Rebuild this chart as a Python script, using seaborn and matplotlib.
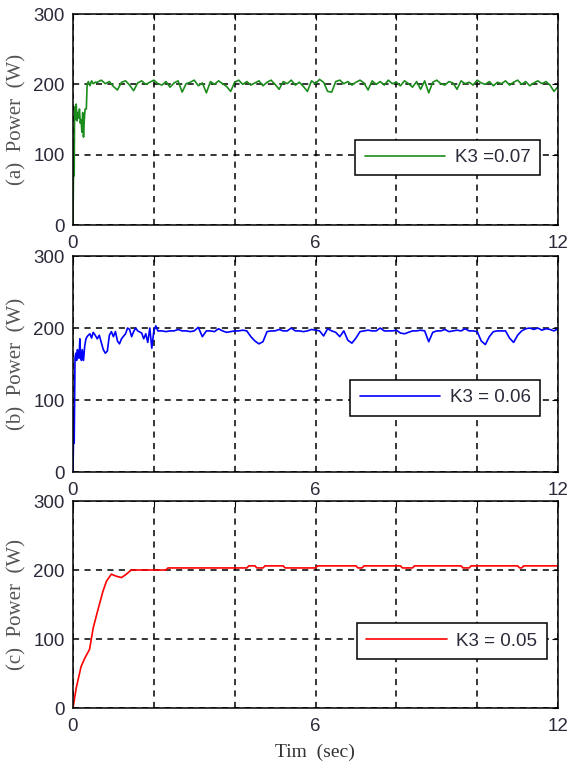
import numpy as np
import pandas as pd
import matplotlib
matplotlib.use("Agg")
import matplotlib.pyplot as plt
import seaborn as sns

# ---- data -------------------------------------------------------------
# (a) K3 = 0.07 : start-up transient, then 0.1 s samples from 0.6 s to 12 s
t_a_start = [0, 0.01, 0.02, 0.03, 0.04, 0.06, 0.08, 0.10, 0.12, 0.14, 0.16,
             0.18, 0.20, 0.22, 0.24, 0.26, 0.28, 0.30, 0.33, 0.35, 0.38,
             0.42, 0.46, 0.50, 0.55]
p_a_start = [0, 65, 120, 70, 168, 150, 172, 148, 160, 152, 165,
             145, 150, 132, 160, 125, 150, 165, 165, 200, 204,
             198, 205, 201, 203]
p_a_steady = [203, 206, 201, 204, 197, 192, 203, 205, 199, 191,
              202, 205, 200, 203, 206, 201, 199, 204, 196, 202,
              205, 189, 201, 203, 206, 198, 202, 188, 204, 200,
              205, 201, 197, 190, 203, 206, 200, 204, 199, 202,
              205, 198, 203, 206, 200, 193, 204, 201, 206, 199,
              203, 197, 190, 205, 201, 207, 203, 190, 189, 204,
              206, 201, 204, 199, 203, 206, 202, 192, 205, 200,
              204, 199, 206, 201, 203, 198, 205, 201, 196, 204,
              193, 205, 188, 203, 206, 201, 199, 204, 202, 193,
              205, 201, 203, 199, 206, 202, 200, 204, 198, 203,
              201, 205, 199, 203, 206, 200, 204, 198, 202, 205,
              201, 204, 199, 190, 197]

# (b) K3 = 0.06 : transient to 2.05 s, then 0.1 s samples from 2.1 s to 12 s
t_b_start = [0, 0.01, 0.02, 0.03, 0.05, 0.07, 0.09, 0.11, 0.13, 0.15, 0.17,
             0.19, 0.21, 0.23, 0.26, 0.29, 0.32, 0.35, 0.38, 0.42, 0.46,
             0.50, 0.55, 0.60, 0.65, 0.70, 0.75, 0.80, 0.85, 0.90, 0.95,
             1.00, 1.05, 1.10, 1.15, 1.20, 1.30, 1.35, 1.40, 1.45, 1.50,
             1.55, 1.60, 1.70, 1.75, 1.80, 1.85, 1.90, 1.95, 2.00, 2.05]
p_b_start = [0, 37, 90, 40, 158, 165, 155, 170, 160, 158, 185,
             160, 155, 170, 155, 175, 185, 188, 190, 192, 186,
             194, 190, 185, 190, 180, 170, 165, 168, 190, 195,
             188, 195, 182, 178, 185, 192, 200, 198, 188, 195,
             200, 196, 193, 185, 192, 180, 200, 172, 196, 203]
p_b_steady = [196, 196, 195, 196, 196, 198, 196, 196, 195, 196,
              201, 188, 196, 196, 195, 199, 196, 194, 195, 196,
              196, 197, 196, 188, 182, 178, 181, 195, 196, 196,
              198, 196, 196, 200, 196, 196, 195, 196, 198, 197,
              196, 189, 199, 196, 194, 188, 196, 183, 179, 186,
              195, 196, 197, 196, 196, 200, 196, 196, 196, 197,
              193, 192, 194, 196, 196, 197, 196, 181, 194, 196,
              196, 198, 195, 196, 197, 196, 199, 196, 196, 195,
              182, 177, 188, 195, 196, 196, 196, 186, 180, 190,
              196, 199, 200, 198, 200, 197, 199, 198, 196, 199]

# (c) K3 = 0.05 : smooth rise, then small steps around 200 W
t_c = [0, 0.08, 0.20, 0.29, 0.41, 0.50, 0.62, 0.74, 0.83, 0.95, 1.07, 1.20,
       1.32, 1.44, 2.30, 2.35, 4.30, 4.35, 4.50, 4.55, 4.70, 4.75, 5.20,
       5.25, 6.00, 6.05, 7.00, 7.05, 7.15, 7.20, 8.10, 8.15, 8.40, 8.45,
       9.60, 9.65, 9.80, 9.85, 11.00, 11.05, 11.10, 11.15, 12.00]
p_c = [0, 29, 60, 72, 85, 116, 143, 169, 184, 194, 191, 189,
       194, 200, 200, 203, 203, 206, 206, 203, 203, 206, 206,
       203, 203, 206, 206, 203, 203, 206, 206, 203, 203, 206,
       206, 203, 203, 206, 206, 203, 203, 206, 206]

t_a = t_a_start + [round(0.6 + 0.1 * i, 2) for i in range(len(p_a_steady))]
p_a = p_a_start + p_a_steady
t_b = t_b_start + [round(2.1 + 0.1 * i, 2) for i in range(len(p_b_steady))]
p_b = p_b_start + p_b_steady

panels = [
    ("(a)  Power  (W)", "K3 =0.07", t_a, p_a, "#1b8c1b", (0.772, 0.320)),
    ("(b)  Power  (W)", "K3 = 0.06", t_b, p_b, "#0000ff", (0.767, 0.343)),
    ("(c)  Power  (W)", "K3 = 0.05", t_c, p_c, "#ff0000", (0.781, 0.324)),
]
x_ticks = [0, 2, 4, 6, 8, 10, 12]
x_ticklabels = ["0", "", "", "6", "", "", "12"]
y_ticks = [0, 100, 200, 300]

# ---- figure -------------------------------------------------------------
sns.set_theme(style="white")
plt.rcParams["font.family"] = ["Liberation Sans", "DejaVu Sans"]

fig = plt.figure(figsize=(5.68, 7.67), dpi=100)
boxes = [
    (0.1285, 0.7066, 0.854, 0.2751),
    (0.1285, 0.3846, 0.854, 0.2816),
    (0.1285, 0.0769, 0.854, 0.2699),
]

for (ylab, leg, tt, pp, col, lc), box in zip(panels, boxes):
    ax = fig.add_axes(box)
    df = pd.DataFrame({"t": tt, "P": pp})
    sns.lineplot(data=df, x="t", y="P", ax=ax, color=col, linewidth=1.2,
                 estimator=None, sort=False, label=leg)
    ax.set_xlim(0, 12)
    ax.set_ylim(0, 300)
    ax.set_xticks(x_ticks)
    ax.set_xticklabels(x_ticklabels)
    ax.set_yticks(y_ticks)
    ax.set_yticklabels([str(v) for v in y_ticks])
    ax.grid(True, color="black", linestyle=(0, (4, 3.5)), linewidth=1.1)
    ax.set_axisbelow(True)
    for s in ax.spines.values():
        s.set_color("black")
        s.set_linewidth(1.1)
    ax.tick_params(axis="both", direction="in", length=4, width=0.8,
                   top=True, right=True, labelsize=13.5, colors="black",
                   labelcolor="#2a2a3a")
    ax.tick_params(axis="x", pad=7)
    ax.tick_params(axis="y", pad=6)
    ax.set_xlabel("")
    ax.set_ylabel(ylab, family=["Liberation Serif", "DejaVu Serif"],
                  fontsize=15, color="#555555", labelpad=5)
    lg = ax.legend(loc="center", bbox_to_anchor=lc, fontsize=13.5,
                   handlelength=4.3, handletextpad=0.5, borderpad=0.5,
                   frameon=True, fancybox=False, framealpha=1.0,
                   edgecolor="black")
    lg.get_frame().set_linewidth(1.1)
    for txt in lg.get_texts():
        txt.set_color("#2a2a3a")

fig.text(0.555, 0.019, "Tim  (sec)", ha="center", va="center",
         family=["Liberation Serif", "DejaVu Serif"], fontsize=14,
         color="#333333")

fig.savefig("out.png", dpi=100)
